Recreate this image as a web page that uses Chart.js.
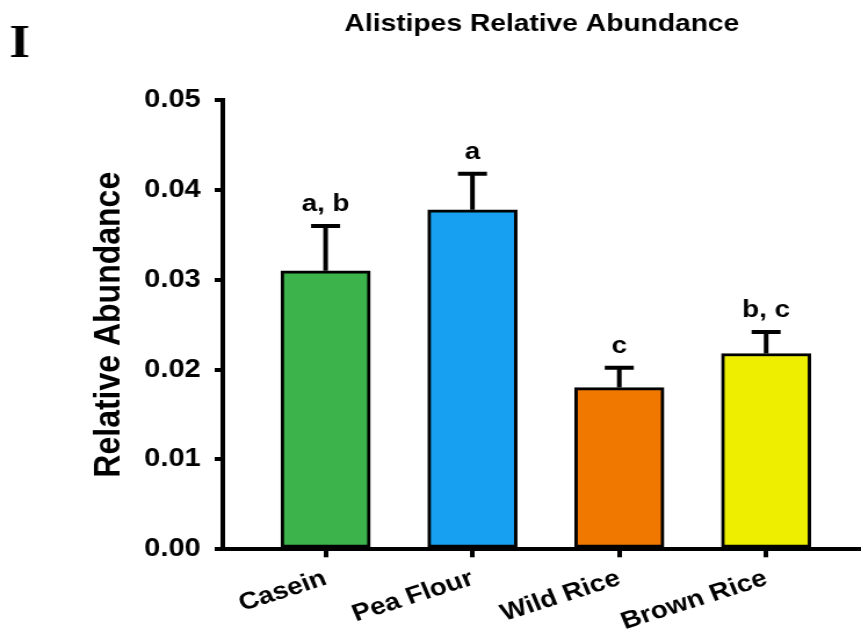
<!DOCTYPE html>
<html>
<head>
<meta charset="utf-8">
<script src="https://cdn.jsdelivr.net/npm/chart.js@4.4.1/dist/chart.umd.min.js"></script>
<style>
  html, body { margin: 0; padding: 0; background: #fff; }
  #abundanceChart { display: block; }
</style>
</head>
<body>
<!-- the reference looks stretched sideways, so the canvas is drawn narrower and widened by its style -->
<canvas id="abundanceChart" width="742" height="636" style="width:861px;height:636px"></canvas>
<script>
const categories = ['Casein', 'Pea Flour', 'Wild Rice', 'Brown Rice'];
const meanAbundance = [0.0310, 0.0378, 0.0180, 0.0218];
const semAbundance = [0.0050, 0.0040, 0.0022, 0.0024];
const sigLetters = ['a, b', 'a', 'c', 'b, c'];
const barColors = ['#3db34c', '#17a0f2', '#f07800', '#eeee00'];
const yTicks = [0, 0.01, 0.02, 0.03, 0.04, 0.05];

const FONT = '"Liberation Sans", Arial, Helvetica, sans-serif';
Chart.defaults.font.family = FONT;
Chart.defaults.color = '#000';

// upward SEM whiskers plus the letters over them
const errorBars = {
    id: 'errorBars',
    afterDatasetsDraw(chart) {
        const ctx = chart.ctx;
        const xs = chart.scales.x, ys = chart.scales.y;
        ctx.save();
        ctx.strokeStyle = '#000';
        ctx.fillStyle = '#000';
        ctx.lineWidth = 4;
        ctx.font = 'bold 24px ' + FONT;
        ctx.textAlign = 'center';
        ctx.textBaseline = 'alphabetic';
        meanAbundance.forEach(function(m, i) {
            const px = xs.getPixelForValue(i);
            const top = ys.getPixelForValue(m);
            const tip = ys.getPixelForValue(m + semAbundance[i]);
            ctx.beginPath();
            ctx.moveTo(px, top);
            ctx.lineTo(px, tip);
            ctx.moveTo(px - 12.5, tip);
            ctx.lineTo(px + 12.5, tip);
            ctx.stroke();
            ctx.fillText(sigLetters[i], px, tip - 15);
        });
        ctx.restore();
    }
};

// panel letter in the corner
const panelLabel = {
    id: 'panelLabel',
    afterDraw(chart) {
        const ctx = chart.ctx;
        ctx.save();
        ctx.fillStyle = '#000';
        ctx.font = 'bold 46px "Liberation Serif", "Times New Roman", serif';
        ctx.textAlign = 'left';
        ctx.textBaseline = 'alphabetic';
        ctx.fillText('I', 8, 57);
        ctx.restore();
    }
};

new Chart(document.getElementById('abundanceChart'), {
    type: 'bar',
    data: {
        datasets: [{
            data: meanAbundance.map(function(v, i) { return { x: i, y: v }; }),
            backgroundColor: barColors,
            borderColor: '#000',
            borderWidth: 3,
            borderSkipped: false,
            barThickness: 77
        }]
    },
    options: {
        responsive: false,
        devicePixelRatio: 1,
        animation: false,
        layout: { padding: 0 },
        scales: {
            x: {
                type: 'linear',
                offset: false,
                min: -0.70,
                max: 3.646,
                afterFit: function(scale) { scale.height = 86.7; },
                afterBuildTicks: function(scale) {
                    scale.ticks = categories.map(function(c, i) { return { value: i }; });
                },
                grid: {
                    offset: false,
                    drawOnChartArea: false,
                    drawTicks: true,
                    tickLength: 8,
                    tickWidth: 4,
                    tickColor: '#000',
                    lineWidth: 4
                },
                border: { display: true, color: '#000', width: 4 },
                ticks: {
                    autoSkip: false,
                    minRotation: 20,
                    maxRotation: 20,
                    padding: 7,
                    color: '#000',
                    font: { size: 24, weight: 'bold' },
                    callback: function(value) { return categories[value]; }
                }
            },
            y: {
                min: 0,
                max: 0.05,
                afterFit: function(scale) { scale.width = 192; },
                afterBuildTicks: function(scale) {
                    scale.ticks = yTicks.map(function(v) { return { value: v }; });
                },
                grid: {
                    drawOnChartArea: false,
                    drawTicks: true,
                    tickLength: 7,
                    tickWidth: 4,
                    tickColor: '#000',
                    lineWidth: 4
                },
                border: { display: true, color: '#000', width: 4 },
                ticks: {
                    padding: 12,
                    color: '#000',
                    font: { size: 25, weight: 'bold' },
                    callback: function(value) { return value.toFixed(2); }
                },
                title: {
                    display: true,
                    text: 'Relative Abundance',
                    color: '#000',
                    font: { size: 32, weight: 'bold' },
                    padding: { top: 75, bottom: 0 }
                }
            }
        },
        plugins: {
            legend: { display: false },
            tooltip: { enabled: false },
            title: {
                display: true,
                text: 'Alistipes Relative Abundance',
                fullSize: false,
                color: '#000',
                font: { size: 24.3, weight: 'bold' },
                padding: { top: 10, bottom: 61 }
            }
        }
    },
    plugins: [errorBars, panelLabel]
});
</script>
</body>
</html>
